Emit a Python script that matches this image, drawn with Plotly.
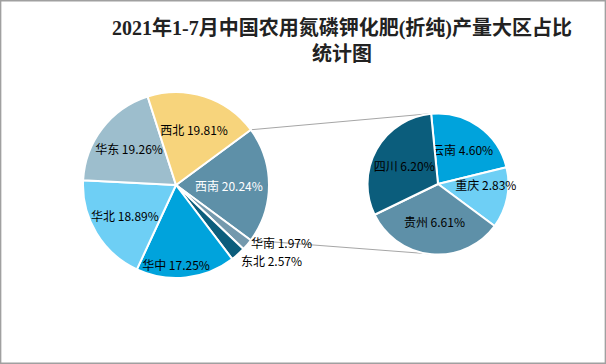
import math
import plotly.graph_objects as go

# ---- data ----
main_labels = ["西南", "华南", "东北", "华中", "华北", "华东", "西北"]
main_values = [20.24, 1.97, 2.57, 17.25, 18.89, 19.26, 19.81]
main_colors = ["#5E90A8", "#7499AD", "#0B5D7C", "#00A3DC", "#6ECFF5", "#9DBECD", "#F7D47C"]

sub_labels = ["云南", "重庆", "贵州", "四川"]
sub_values = [4.60, 2.83, 6.61, 6.20]
sub_colors = ["#00A3DC", "#6ECFF5", "#5E90A8", "#0B5D7C"]

title_lines = ["2021年1-7月中国农用氮磷钾化肥(折纯)产量大区占比", "统计图"]

W, H = 606, 364

# geometry (pixels)
mcx, mcy, mr = 176, 185, 93
scx, scy, sr = 438, 184, 70.5

def dom(cx, cy, r):
    return dict(x=[(cx - r) / W, (cx + r) / W], y=[(H - cy - r) / H, (H - cy + r) / H])

total = sum(main_values)
other_deg = main_values[0] / total * 360
main_rot = 90 - other_deg / 2
sub_rot = -5.6

fmt = lambda l, v: f"{l} {v:.2f}%"
small = ["华南", "东北"]
small_shift = {"华南": 4, "东北": -5}

LABEL_FONT = "Noto Sans CJK SC, Noto Sans, sans-serif"

fig = go.Figure()
fig.add_trace(go.Pie(
    labels=main_labels, values=main_values, sort=False, direction="clockwise",
    rotation=main_rot, domain=dom(mcx, mcy, mr),
    marker=dict(colors=main_colors, line=dict(color="white", width=2)),
    text=["" if l in small else fmt(l, v) for l, v in zip(main_labels, main_values)],
    textinfo="text", insidetextorientation="horizontal", textposition="inside",
    textfont=dict(family=LABEL_FONT, size=12,
                  color=["white", "black", "black", "black", "black", "black", "black"]),
    showlegend=False, hoverinfo="label+percent",
))
fig.add_trace(go.Pie(
    labels=sub_labels, values=sub_values, sort=False, direction="clockwise",
    rotation=sub_rot, domain=dom(scx, scy, sr),
    marker=dict(colors=sub_colors, line=dict(color="white", width=2)),
    text=[fmt(l, v) for l, v in zip(sub_labels, sub_values)],
    textinfo="text", insidetextorientation="horizontal", textposition="inside",
    textfont=dict(family=LABEL_FONT, size=12, color="black"),
    showlegend=False, hoverinfo="label+value",
))

annotations = []
# labels of the two thin slices, placed just outside the rim at their mid-angle
cum = 0.0
for l, v in zip(main_labels, main_values):
    mid = main_rot + (cum + v / 2) / total * 360
    cum += v
    if l in small:
        a = math.radians(mid)
        px = mcx + (mr + 2) * math.sin(a)
        py = mcy - (mr + 2) * math.cos(a)
        annotations.append(dict(text=fmt(l, v), xref="paper", yref="paper",
                                x=px / W, y=1 - py / H, xanchor="left", yanchor="middle",
                                yshift=small_shift[l],
                                showarrow=False, font=dict(family=LABEL_FONT, size=12, color="black")))

# connector lines between the pies
a1 = math.radians(main_rot)
a2 = math.radians(main_rot + other_deg)
p1 = (mcx + mr * math.sin(a1), mcy - mr * math.cos(a1))
p2 = (mcx + mr * math.sin(a2), mcy - mr * math.cos(a2))
q1 = (scx - 6, scy - sr)
q2 = (scx, scy + sr)
shapes = []
for p, q in [(p1, q1), (p2, q2)]:
    shapes.append(dict(type="line", xref="paper", yref="paper",
                       x0=p[0] / W, y0=1 - p[1] / H, x1=q[0] / W, y1=1 - q[1] / H,
                       line=dict(color="#A6A6A6", width=1), layer="below"))
shapes.append(dict(type="rect", xref="paper", yref="paper", x0=0.001, y0=0.002, x1=0.999, y1=0.998,
                   line=dict(color="#A0A0A0", width=1.5)))

annotations.append(
    dict(text="<b>" + "<br>".join(title_lines) + "</b>", xref="paper", yref="paper",
         x=342 / W, y=1 - 15 / H, xanchor="center", yanchor="top", showarrow=False,
         font=dict(family="Liberation Serif, Noto Sans CJK SC", size=20, color="#222222"),
         align="center"))

fig.update_layout(
    width=W, height=H, margin=dict(l=0, r=0, t=0, b=0),
    paper_bgcolor="white", plot_bgcolor="white",
    shapes=shapes, annotations=annotations,
    uniformtext=dict(minsize=12, mode="show"),
)
fig.write_html("out.html", config={"displayModeBar": False},
               post_script="document.body.style.margin='0';")
